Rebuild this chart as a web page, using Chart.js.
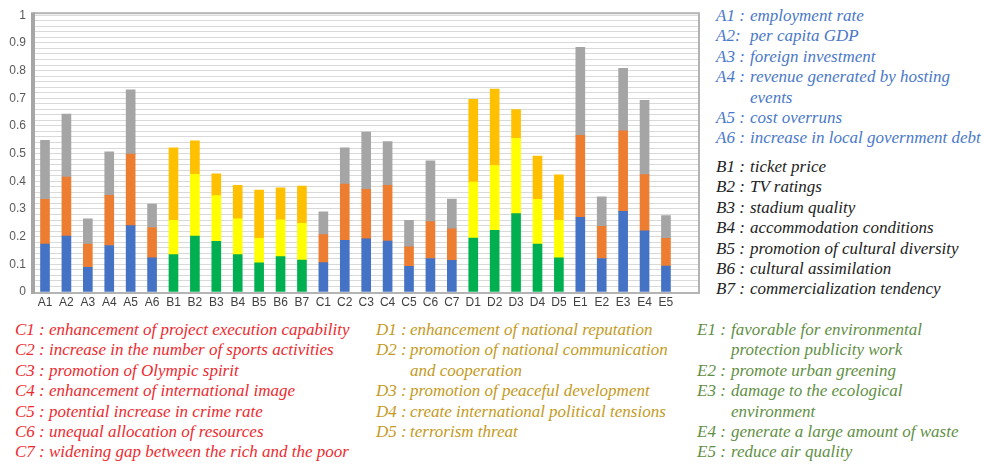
<!DOCTYPE html>
<html>
<head>
<meta charset="utf-8">
<script src="https://cdn.jsdelivr.net/npm/chart.js@4/dist/chart.umd.min.js"></script>
<style>
    body { margin: 0; background: #fff; }
    #wrap { position: relative; width: 984px; height: 468px; overflow: hidden; }
    #chartBox { position: absolute; left: 0; top: 0; width: 702px; height: 312px; }
    .notes { position: absolute; font-family: 'Liberation Serif', 'Times New Roman', Times, serif; font-style: italic; font-size: 17px; line-height: 20.4px; white-space: nowrap; }
    .notes .key { display: inline-block; width: 34px; }
    .notes .cont { padding-left: 34px; }
</style>
</head>
<body>
<div id="wrap">
    <div id="chartBox"><canvas id="factorChart"></canvas></div>
    <div class="notes" id="notesA" style="left:716px; top:6px; color:#4a78c8;"></div>
    <div class="notes" id="notesB" style="left:716px; top:157px; color:#222;"></div>
    <div class="notes" id="notesC" style="left:15px; top:320px; color:#ee2a2f;"></div>
    <div class="notes" id="notesD" style="left:376px; top:320px; color:#c49a22;"></div>
    <div class="notes" id="notesE" style="left:697px; top:320px; color:#5f8f45;"></div>
</div>
<script>
const categories = ['A1', 'A2', 'A3', 'A4', 'A5', 'A6', 'B1', 'B2', 'B3', 'B4', 'B5', 'B6', 'B7',
    'C1', 'C2', 'C3', 'C4', 'C5', 'C6', 'C7', 'D1', 'D2', 'D3', 'D4', 'D5', 'E1', 'E2', 'E3', 'E4', 'E5'];

// three stacked parts of every bar, bottom to top
const bottomValues = [0.173, 0.202, 0.089, 0.168, 0.240, 0.123, 0.135, 0.202, 0.183, 0.135, 0.105, 0.128, 0.115,
    0.106, 0.187, 0.192, 0.184, 0.093, 0.121, 0.114, 0.195, 0.223, 0.283, 0.173, 0.123, 0.270, 0.121, 0.291, 0.221, 0.094];
const middleValues = [0.162, 0.213, 0.084, 0.181, 0.258, 0.110, 0.124, 0.223, 0.165, 0.129, 0.089, 0.133, 0.133,
    0.101, 0.203, 0.179, 0.201, 0.070, 0.133, 0.114, 0.202, 0.234, 0.272, 0.162, 0.136, 0.296, 0.116, 0.291, 0.203, 0.100];
const topValues = [0.213, 0.228, 0.091, 0.157, 0.232, 0.085, 0.262, 0.121, 0.079, 0.121, 0.174, 0.115, 0.135,
    0.083, 0.131, 0.207, 0.158, 0.096, 0.220, 0.108, 0.299, 0.276, 0.104, 0.156, 0.164, 0.318, 0.107, 0.226, 0.268, 0.082];

const yTickLabels = ['0', '0.1', '0.2', '0.3', '0.4', '0.5', '0.6', '0.7', '0.8', '0.9', '1'];

const notesA = [['A1 :', 'employment rate'], ['A2:', 'per capita GDP'], ['A3 :', 'foreign investment'],
    ['A4 :', 'revenue generated by hosting', 'events'], ['A5 :', 'cost overruns'], ['A6 :', 'increase in local government debt']];
const notesB = [['B1 :', 'ticket price'], ['B2 :', 'TV ratings'], ['B3 :', 'stadium quality'], ['B4 :', 'accommodation conditions'],
    ['B5 :', 'promotion of cultural diversity'], ['B6 :', 'cultural assimilation'], ['B7 :', 'commercialization tendency']];
const notesC = [['C1 :', 'enhancement of project execution capability'], ['C2 :', 'increase in the number of sports activities'],
    ['C3 :', 'promotion of Olympic spirit'], ['C4 :', 'enhancement of international image'], ['C5 :', 'potential increase in crime rate'],
    ['C6 :', 'unequal allocation of resources'], ['C7 :', 'widening gap between the rich and the poor']];
const notesD = [['D1 :', 'enhancement of national reputation'], ['D2 :', 'promotion of national communication', 'and cooperation'],
    ['D3 :', 'promotion of peaceful development'], ['D4 :', 'create international political tensions'], ['D5 :', 'terrorism threat']];
const notesE = [['E1 :', 'favorable for environmental', 'protection publicity work'], ['E2 :', 'promote urban greening'],
    ['E3 :', 'damage to the ecological', 'environment'], ['E4 :', 'generate a large amount of waste'], ['E5 :', 'reduce air quality']];

const paletteBlue = ['#4472c4', '#ed7d31', '#a5a5a5'];
const paletteGreen = ['#00b050', '#ffff00', '#ffc000'];

function colorsFor(level) {
    return categories.map(c => (c[0] === 'B' || c[0] === 'D') ? paletteGreen[level] : paletteBlue[level]);
}

function toPoints(values) {
    return values.map((v, i) => ({ x: i, y: v }));
}

const frame = {
    id: 'frame',
    afterDraw(chart) {
        const a = chart.chartArea;
        const ctx = chart.ctx;
        ctx.save();
        ctx.strokeStyle = '#b4b4b4';
        ctx.lineWidth = 2;
        ctx.strokeRect(a.left, a.top - 2, a.right - a.left - 1, a.bottom - a.top + 3);
        ctx.strokeStyle = '#a6a6a6';
        ctx.lineWidth = 4;
        ctx.beginPath();
        ctx.moveTo(a.left - 1, a.top - 3);
        ctx.lineTo(a.left - 1, a.bottom + 2);
        ctx.stroke();
        ctx.restore();
    }
};

new Chart(document.getElementById('factorChart'), {
    type: 'bar',
    data: {
        datasets: [
            { data: toPoints(bottomValues), backgroundColor: colorsFor(0) },
            { data: toPoints(middleValues), backgroundColor: colorsFor(1) },
            { data: toPoints(topValues), backgroundColor: colorsFor(2) }
        ]
    },
    plugins: [frame],
    options: {
        responsive: true,
        maintainAspectRatio: false,
        animation: false,
        barThickness: 9,
        layout: { padding: { top: 8, right: 2, left: 0, bottom: 0 } },
        plugins: {
            legend: { display: false },
            tooltip: { enabled: false }
        },
        scales: {
            x: {
                type: 'linear',
                stacked: true,
                offset: false,
                min: -0.514,
                max: 30.59,
                grid: { display: false, drawTicks: false },
                border: { display: false },
                afterFit: scale => { scale.height = 20; },
                ticks: {
                    stepSize: 1,
                    includeBounds: false,
                    autoSkip: false,
                    maxRotation: 0,
                    padding: 3,
                    color: '#404040',
                    font: { family: 'Liberation Sans', size: 12 },
                    callback: v => Number.isInteger(v) ? (categories[v] || '') : ''
                }
            },
            y: {
                stacked: true,
                min: 0,
                max: 1,
                border: { display: false },
                grid: { color: '#d9d9d9', lineWidth: 1, drawTicks: false },
                afterFit: scale => { scale.width = 34; },
                ticks: {
                    stepSize: 0.02,
                    autoSkip: false,
                    padding: 8,
                    color: '#595959',
                    font: { family: 'Liberation Sans', size: 12 },
                    callback: v => {
                        const k = Math.round(v * 10);
                        return Math.abs(v * 10 - k) < 1e-6 ? yTickLabels[k] : '';
                    }
                }
            }
        }
    }
});

function fillNotes(id, items) {
    const box = document.getElementById(id);
    items.forEach(item => {
        const line = document.createElement('div');
        line.innerHTML = '<span class="key">' + item[0] + '</span>' + item[1];
        box.appendChild(line);
        for (let i = 2; i < item.length; i++) {
            const more = document.createElement('div');
            more.className = 'cont';
            more.textContent = item[i];
            box.appendChild(more);
        }
    });
}
fillNotes('notesA', notesA);
fillNotes('notesB', notesB);
fillNotes('notesC', notesC);
fillNotes('notesD', notesD);
fillNotes('notesE', notesE);
</script>
</body>
</html>
